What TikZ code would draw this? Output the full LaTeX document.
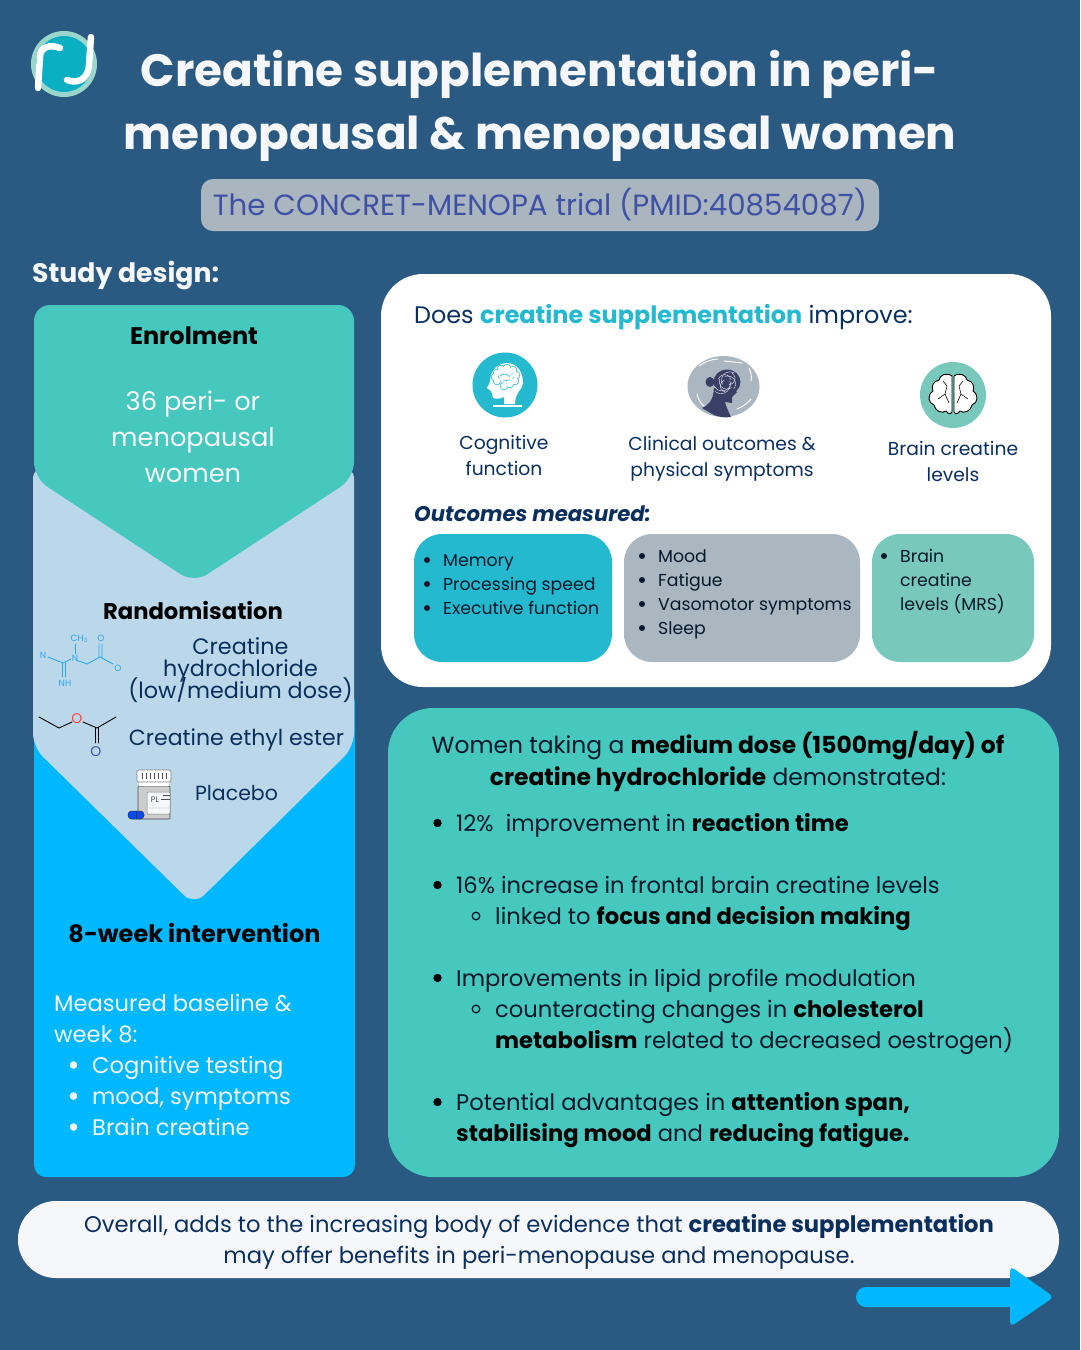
\documentclass[tikz,border=0pt]{standalone}
\usepackage{fontspec}
\setmainfont{Poppins}
\usetikzlibrary{calc}
\definecolor{bgc}{HTML}{2A5A82}
\definecolor{tealc}{HTML}{46C8BE}
\definecolor{lightb}{HTML}{BBD8EB}
\definecolor{skyb}{HTML}{00B8FF}
\definecolor{navy}{HTML}{0B2F5C}
\definecolor{inkc}{HTML}{06182A}
\definecolor{pillg}{HTML}{A9B5BF}
\definecolor{pillt}{HTML}{3F51A5}
\definecolor{cyanc}{HTML}{24B9CF}
\definecolor{greyc}{HTML}{AAB7C0}
\definecolor{greenc}{HTML}{78C9BB}
\definecolor{offw}{HTML}{F5F7FA}
\definecolor{logoc}{HTML}{0AAFC4}
\definecolor{headd}{HTML}{3A3F66}
\definecolor{molb}{HTML}{2EA6F0}
\newcommand{\fs}[1]{\fontsize{#1}{#1}\selectfont}
\newcommand{\Tc}[5][navy]{\node[anchor=base,inner sep=0pt,text=#1] at (#2,#3) {\fs{#4}#5};}
\newcommand{\Tl}[5][navy]{\node[anchor=base west,inner sep=0pt,text=#1] at (#2,#3) {\fs{#4}#5};}
\tikzset{
  x=1pt,y=-1pt,
  mol/.style={line width=.9pt,line cap=round},
}
\begin{document}
\begin{tikzpicture}
\useasboundingbox (0,0) rectangle (1080,1350);
\fill[bgc] (0,0) rectangle (1080,1350);
% logo
\fill[greenc!75!white] (64,64) circle (33);
\fill[logoc] (64,64) circle (28);
\draw[white,line width=6.5pt,line cap=round] (38,88) -- (40,57) .. controls (40,47) and (50,44) .. (60,48);
\draw[white,line width=6.5pt,line cap=round] (91,37) -- (89,65) .. controls (88,80) and (77,84) .. (67,80);
% title
\Tc[offw]{540}{86}{45.3}{\textbf{Creatine supplementation in peri-}}
\Tc[offw]{540}{149}{45.3}{\textbf{menopausal \& menopausal women}}
\fill[pillg,rounded corners=12pt] (201,179) rectangle (879,231);
\Tc[pillt]{540}{215}{29.3}{The CONCRET-MENOPA trial (PMID:40854087)}
\Tl[offw]{32}{282}{26.7}{\textbf{Study design:}}
% left column
\fill[skyb,rounded corners=12pt] (34,690) rectangle (355,1177);
\fill[lightb,rounded corners=14pt] (33,465) -- (354,465) -- (354,747) -- (194,905) -- (33,747) -- cycle;
\fill[tealc,rounded corners=16pt] (34,305) -- (354,305) -- (354,478) -- (194,583) -- (34,478) -- cycle;
\Tc[black]{194}{344}{24}{\textbf{Enrolment}}
\Tc[offw]{193}{410}{25.7}{36 peri- or}
\Tc[offw]{193}{446}{25.7}{menopausal}
\Tc[offw]{193}{482}{25.7}{women}
\Tc[black]{193}{619}{22.7}{\textbf{Randomisation}}
\Tc{240.5}{654}{22.3}{Creatine}
\Tc{240.5}{676}{22.3}{hydrochloride}
\Tc{240.5}{698}{22.3}{(low/medium dose)}
\Tc{236.5}{745}{22}{Creatine ethyl ester}
\Tc{236.5}{800}{20.5}{Placebo}
% molecule 1
\draw[molb,mol] (48,657) -- (63,663) -- (71,659) (76,660) -- (87,664) -- (100,657) (99,657) -- (99,644) (102,657) -- (102,644) (100,657) -- (113,664);
\draw[molb,mol] (62,663) -- (62,677) (65,663) -- (65,677) (75,644) -- (75,654);
\Tc[molb]{43}{658}{9}{N}
\Tc[molb]{75}{661}{9}{N}
\Tc[molb]{79}{641}{9}{CH\raisebox{-1pt}{\fontsize{6}{6}\selectfont 3}}
\Tc[molb]{101}{641}{9}{O}
\Tc[molb]{118}{671}{9}{O}
\Tc[molb]{65}{686}{9}{NH}
% molecule 2
\draw[black,mol] (39,717) -- (59,728) -- (72,722) (83,722) -- (97,728) -- (116,717) (95.5,728) -- (95.5,743) (98.5,728) -- (98.5,743);
\Tc[red!75!white]{77}{723}{14}{O}
\Tc[pillt]{96}{756}{14}{O}
% bottle
\fill[black!20,draw=black!70,line width=.6pt,rounded corners=1pt] (138,786) rectangle (170,819);
\fill[white] (139,781) rectangle (169,786);
\fill[white,draw=black!50,line width=.6pt,rounded corners=2pt] (137,770) rectangle (171,782);
\foreach \xx in {142,146,...,166} \draw[black!70,line width=.5pt] (\xx,773) -- (\xx,779);
\fill[offw,draw=black!50,line width=.5pt,rounded corners=1pt] (147,792) rectangle (170,814);
\node[inner sep=0pt,text=black!70] at (155,800) {\fs{8}PL};
\draw[black!70,line width=.5pt] (161,799) -- (170,799) (163,795) -- (170,795);
\foreach \xx in {150,153,...,168} \fill[black!35] (\xx,808) circle (.7);
\fill[blue!60!skyb,draw=black!80,line width=.5pt,rounded corners=3.5pt] (128,811) rectangle (144,819);
\draw[black!80,line width=.5pt] (136,811) -- (136,819);
\Tc[black]{194.5}{942}{24}{\textbf{8-week intervention}}
\Tl[offw]{54}{1011}{22.6}{Measured baseline \&}
\Tl[offw]{54}{1042}{22.6}{week 8:}
\foreach \yy/\lbl in {1073/Cognitive testing,1104/{mood, symptoms},1135/Brain creatine}{
  \fill[offw] (73.5,\yy-8) circle (3.8);
  \Tl[offw]{92}{\yy}{22.6}{\lbl}
}
% white card
\fill[white,rounded corners=42pt] (381,274) rectangle (1051,687);
\Tl{414}{323}{23.9}{Does \textcolor{cyanc}{\textbf{creatine supplementation}} improve:}
% icon 1
\fill[cyanc] (505,385) circle (32.5);
\fill[white] (491,375) .. controls (494,367) and (500,363) .. (507,363) .. controls (517,363) and (523,372) .. (523,383) .. controls (523,389) and (515,392) .. (515,404) -- (504,404) -- (504,397) .. controls (500,399) and (496,399) .. (493,398) .. controls (492,395) and (492,392) .. (491,391) -- (487,388) .. controls (490,384) and (490,379) .. (491,375) -- cycle;
\draw[white,line width=1.2pt] (493,406) -- (522,406);
\foreach \cx/\cy in {497/373,501/369,507/368,513/370,516/375,515/381,510/384,504/386,497/381,495/377}
  \fill[cyanc] (\cx,\cy) circle (4.2);
\foreach \cx/\cy in {497/373,501/369,507/368,513/370,516/375,515/381,510/384,504/386,497/381,495/377}
  \fill[white] (\cx,\cy) circle (3.4);
\fill[white] (506,376) circle (7);
\draw[cyanc,line width=.6pt] (500,376) .. controls (503,373) and (508,374) .. (510,377) (503,381) -- (510,380);
% icon 2
\fill[greyc] (723.5,386.5) ellipse (36 and 30.5);
\draw[white,line width=.9pt,line cap=round] (699,366) .. controls (704,362) and (712,359) .. (718,359) (724,361) -- (742,363) (749,368) .. controls (751,372) and (752,376) .. (751,381) (697,394) .. controls (698,399) and (701,404) .. (705,407) (737,409) .. controls (742,407) and (747,404) .. (751,399);
\fill[headd] (702,408) .. controls (708,405) and (713,402) .. (714,388) -- (733,388) -- (737,392) -- (732,397) -- (732,403) -- (725,402) .. controls (726,407) and (729,412) .. (731,417) .. controls (725,418) and (719,417) .. (714,415) -- cycle;
\fill[headd] (710,382) ellipse (4.5 and 5);
\fill[headd] (727,382) ellipse (13.5 and 12.5);
\foreach \aa/\rr in {0/4,50/7,100/10,150/5,200/9,250/6,300/10,340/3}
  \draw[white!85!headd,line width=.45pt] ($(727,382)+(\aa:\rr)$) arc (\aa:\aa+150:{11-.5*\rr});
% icon 3
\fill[greenc] (953,395) circle (33);
\fill[white,draw=black,line width=.9pt] (952,376) .. controls (946,372) and (940,375) .. (939,380) .. controls (933,381) and (931,387) .. (933,391) .. controls (927,395) and (928,403) .. (934,405) .. controls (935,411) and (942,414) .. (946,411) .. controls (949,415) and (952,414) .. (952,412) -- cycle;
\fill[white,draw=black,line width=.9pt] (954,376) .. controls (960,372) and (966,375) .. (967,380) .. controls (973,381) and (975,387) .. (973,391) .. controls (979,395) and (978,403) .. (972,405) .. controls (971,411) and (964,414) .. (960,411) .. controls (957,415) and (954,414) .. (954,412) -- cycle;
\draw[black,line width=.55pt] (943,381) -- (947,386) -- (945,394) -- (938,399) (945,394) -- (949,403) (963,381) -- (959,386) -- (961,394) -- (968,399) (961,394) -- (957,403);
\Tc{504}{449.5}{18.7}{Cognitive}
\Tc{504}{475.5}{18.7}{function}
\Tc{722}{450.5}{18.7}{Clinical outcomes \&}
\Tc{722}{476.5}{18.7}{physical symptoms}
\Tc{953}{455.5}{18.7}{Brain creatine}
\Tc{953}{481.5}{18.7}{levels}
\Tl{414}{521}{21.2}{\textbf{\itshape Outcomes measured:}}
\fill[cyanc,rounded corners=28pt] (414,534) rectangle (612,662);
\fill[greyc,rounded corners=28pt] (624,534) rectangle (860,662);
\fill[greenc,rounded corners=28pt] (872,534) rectangle (1034,662);
\foreach \yy/\lbl in {566/Memory,590/Processing speed,614/Executive function}{
  \fill[inkc] (427,\yy-6) circle (3);
  \Tl[inkc]{443}{\yy}{17.3}{\lbl}
}
\foreach \yy/\lbl in {562/Mood,586/Fatigue,610/Vasomotor symptoms,634/Sleep}{
  \fill[inkc] (642,\yy-6) circle (3);
  \Tl[inkc]{658}{\yy}{17.3}{\lbl}
}
\fill[inkc] (884,556) circle (3);
\Tl[inkc]{900}{562}{17.3}{Brain}
\Tl[inkc]{900}{586}{17.3}{creatine}
\Tl[inkc]{900}{610}{17.3}{levels (MRS)}
% results card
\fill[tealc,rounded corners=45pt] (388,708) rectangle (1059,1177);
\Tc[inkc]{718}{753}{23.4}{Women taking a \textcolor{black}{\textbf{medium dose (1500mg/day) of}}}
\Tc[inkc]{718}{785}{23.4}{\textcolor{black}{\textbf{creatine hydrochloride}} demonstrated:}
\foreach \yy in {823,885,978,1102}{\fill[black] (437.5,\yy) circle (4.2);}
\foreach \yy in {916,1009}{\draw[inkc,line width=1.3pt] (476,\yy) circle (3.8);}
\Tl[inkc]{456}{831}{22.65}{12\%~ improvement in \textcolor{black}{\textbf{reaction time}}}
\Tl[inkc]{456}{893}{22.65}{16\% increase in frontal brain creatine levels}
\Tl[inkc]{495}{924}{22.65}{linked to \textcolor{black}{\textbf{focus and decision making}}}
\Tl[inkc]{456}{986}{22.65}{Improvements in lipid profile modulation}
\Tl[inkc]{495}{1017}{22.65}{counteracting changes in \textcolor{black}{\textbf{cholesterol}}}
\Tl[inkc]{495}{1048}{22.65}{\textcolor{black}{\textbf{metabolism}} related to decreased oestrogen)}
\Tl[inkc]{456}{1110}{22.65}{Potential advantages in \textcolor{black}{\textbf{attention span,}}}
\Tl[inkc]{456}{1141}{22.65}{\textcolor{black}{\textbf{stabilising mood}} and \textcolor{black}{\textbf{reducing fatigue.}}}
% bottom
\fill[offw,rounded corners=38pt] (18,1201) rectangle (1059,1278);
\Tc{539}{1232}{22.65}{Overall, adds to the increasing body of evidence that \textbf{creatine supplementation}}
\Tc{539}{1263}{22.65}{may offer benefits in peri-menopause and menopause.}
% arrow
\fill[skyb,rounded corners=10pt] (856,1287) rectangle (1020,1307);
\fill[skyb,rounded corners=5pt] (1010,1266) -- (1054,1297) -- (1010,1327) -- cycle;
\end{tikzpicture}
\end{document}
